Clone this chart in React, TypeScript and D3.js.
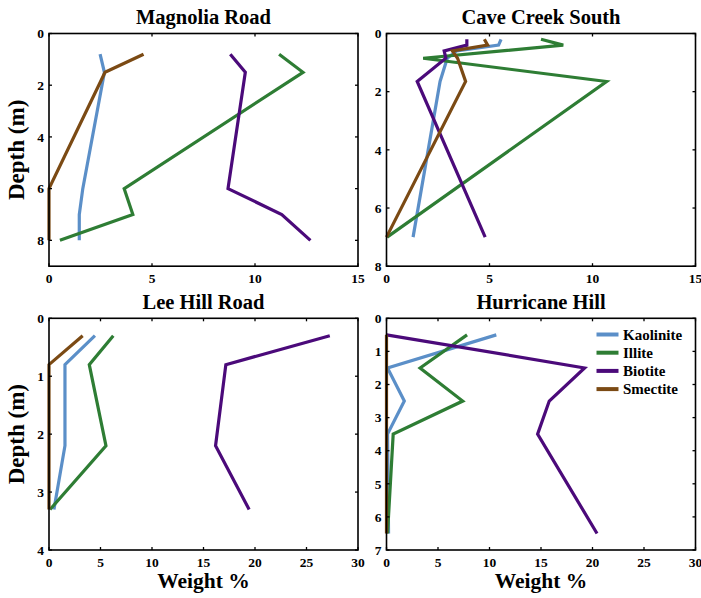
import React from "react";
import * as d3 from "d3";

// Clay mineral weight % against depth at four sampling sites
const minerals = ["Kaolinite", "Illite", "Biotite", "Smectite"];
const mineralColors = ["#5b8fc8", "#2e7d34", "#4b0a7a", "#7b4a14"];

const magnoliaDepth = [0.8, 1.5, 6, 7, 8];
const magnoliaKaolinite = [2.48, 2.69, 1.64, 1.47, 1.47];
const magnoliaIllite = [11.17, 12.33, 3.65, 4.07, 0.53];
const magnoliaBiotite = [8.8, 9.53, 8.69, 11.3, 12.69];
const magnoliaSmectite = [4.59, 2.72, 0, 0, 0];

const caveDepth = [0.2, 0.4, 0.6, 0.85, 1.65, 7];
const caveKaolinite = [5.56, 5.44, 3.4, 2.95, 2.6, 1.29];
const caveIllite = [7.5, 8.58, 5.6, 1.78, 10.68, 0.03];
const caveBiotite = [3.9, 3.9, 2.8, 2.88, 1.49, 4.79];
const caveSmectite = [4.75, 4.91, 3.2, 3.45, 3.84, 0];

const leeDepth = [0.3, 0.8, 2.2, 3.3];
const leeKaolinite = [4.46, 1.55, 1.55, 0.48];
const leeIllite = [6.24, 3.91, 5.53, 0.1];
const leeBiotite = [27.26, 17.17, 16.17, 19.43];
const leeSmectite = [3.27, 0, 0, 0];

const hurricaneDepth = [0.5, 1.5, 2.5, 3.5, 6.5];
const hurricaneKaolinite = [10.66, 0.1, 1.73, 0.1, 0.2];
const hurricaneIllite = [7.82, 3.26, 7.4, 0.65, 0.1];
const hurricaneBiotite = [0, 19.23, 15.8, 14.67, 20.44];
const hurricaneSmectite = [0, 0, 0, 0, 0];

const xTicks15 = [0, 5, 10, 15];
const xTicks30 = [0, 5, 10, 15, 20, 25, 30];

type Panel = {
  title: string;
  depth: number[];
  series: number[][];
  xMax: number;
  xTicks: number[];
  yMax: number;
  yTicks: number[];
  left: number;
  top: number;
  showDepthLabel: boolean;
  showWeightLabel: boolean;
  showLegend: boolean;
};

const panels: Panel[] = [
  {
    title: "Magnolia Road",
    depth: magnoliaDepth,
    series: [magnoliaKaolinite, magnoliaIllite, magnoliaBiotite, magnoliaSmectite],
    xMax: 15,
    xTicks: xTicks15,
    yMax: 9,
    yTicks: [0, 2, 4, 6, 8],
    left: 49,
    top: 33.5,
    showDepthLabel: true,
    showWeightLabel: false,
    showLegend: false,
  },
  {
    title: "Cave Creek South",
    depth: caveDepth,
    series: [caveKaolinite, caveIllite, caveBiotite, caveSmectite],
    xMax: 15,
    xTicks: xTicks15,
    yMax: 8,
    yTicks: [0, 2, 4, 6, 8],
    left: 386.5,
    top: 33.5,
    showDepthLabel: false,
    showWeightLabel: false,
    showLegend: false,
  },
  {
    title: "Lee Hill Road",
    depth: leeDepth,
    series: [leeKaolinite, leeIllite, leeBiotite, leeSmectite],
    xMax: 30,
    xTicks: xTicks30,
    yMax: 4,
    yTicks: [0, 1, 2, 3, 4],
    left: 49,
    top: 318.3,
    showDepthLabel: true,
    showWeightLabel: true,
    showLegend: false,
  },
  {
    title: "Hurricane Hill",
    depth: hurricaneDepth,
    series: [hurricaneKaolinite, hurricaneIllite, hurricaneBiotite, hurricaneSmectite],
    xMax: 30,
    xTicks: xTicks30,
    yMax: 7,
    yTicks: [0, 1, 2, 3, 4, 5, 6, 7],
    left: 386.5,
    top: 318.3,
    showDepthLabel: false,
    showWeightLabel: true,
    showLegend: true,
  },
];

const plotW = 309;
const FONT = "Liberation Serif, Times New Roman, DejaVu Serif, serif";
const textStyle = { fontFamily: FONT, fontWeight: 700 } as React.CSSProperties;

function PanelView({ p }: { p: Panel }) {
  const plotH = p.top < 100 ? 232.7 : 231.7;
  const x = d3.scaleLinear().domain([0, p.xMax]).range([p.left, p.left + plotW]);
  const y = d3.scaleLinear().domain([0, p.yMax]).range([p.top, p.top + plotH]);
  const line = d3
    .line<number>()
    .x((v) => x(v))
    .y((_, i) => y(p.depth[i]));
  const tickLen = 3;
  const bottom = p.top + plotH;
  const right = p.left + plotW;

  return (
    <g>
      <text
        x={p.left + plotW / 2}
        y={p.top - 9.5}
        textAnchor="middle"
        style={{ ...textStyle, fontSize: 20.5 }}
      >
        {p.title}
      </text>

      {p.series.map((vals, k) => (
        <path
          key={minerals[k]}
          d={line(vals) || ""}
          fill="none"
          stroke={mineralColors[k]}
          strokeWidth={3.2}
          strokeLinejoin="miter"
        />
      ))}

      <rect
        x={p.left}
        y={p.top}
        width={plotW}
        height={plotH}
        fill="none"
        stroke="#000"
        strokeWidth={1.6}
      />

      {p.xTicks.map((t) => (
        <g key={"x" + t}>
          <line x1={x(t)} x2={x(t)} y1={bottom} y2={bottom - tickLen} stroke="#000" strokeWidth={1.3} />
          <line x1={x(t)} x2={x(t)} y1={p.top} y2={p.top + tickLen} stroke="#000" strokeWidth={1.3} />
          <text
            x={x(t)}
            y={bottom + 16.5}
            textAnchor="middle"
            style={{ ...textStyle, fontSize: 13.5 }}
          >
            {t}
          </text>
        </g>
      ))}

      {p.yTicks.map((t) => (
        <g key={"y" + t}>
          <line x1={p.left} x2={p.left + tickLen} y1={y(t)} y2={y(t)} stroke="#000" strokeWidth={1.3} />
          <line x1={right} x2={right - tickLen} y1={y(t)} y2={y(t)} stroke="#000" strokeWidth={1.3} />
          <text
            x={p.left - 5}
            y={y(t)}
            dy="0.35em"
            textAnchor="end"
            style={{ ...textStyle, fontSize: 13.5 }}
          >
            {t}
          </text>
        </g>
      ))}

      {p.showDepthLabel && (
        <text
          transform={`translate(${p.left - 25},${p.top + plotH / 2}) rotate(-90)`}
          textAnchor="middle"
          style={{ ...textStyle, fontSize: 23 }}
        >
          Depth (m)
        </text>
      )}

      {p.showWeightLabel && (
        <text
          x={p.left + plotW / 2}
          y={bottom + 38}
          textAnchor="middle"
          style={{ ...textStyle, fontSize: 21.5 }}
        >
          Weight %
        </text>
      )}

      {p.showLegend &&
        minerals.map((m, k) => {
          const ly = 334.5 + k * 18.2;
          return (
            <g key={m}>
              <line x1={596.5} x2={618.5} y1={ly} y2={ly} stroke={mineralColors[k]} strokeWidth={4} />
              <text
                x={623}
                y={ly}
                dy="0.35em"
                style={{ ...textStyle, fontSize: 15 }}
              >
                {m}
              </text>
            </g>
          );
        })}
    </g>
  );
}

export default function App() {
  return (
    <svg
      width={701}
      height={598}
      style={{ position: "absolute", left: 0, top: 0, background: "#fff" }}
    >
      <rect width={701} height={598} fill="#fff" />
      {panels.map((p) => (
        <PanelView key={p.title} p={p} />
      ))}
    </svg>
  );
}
